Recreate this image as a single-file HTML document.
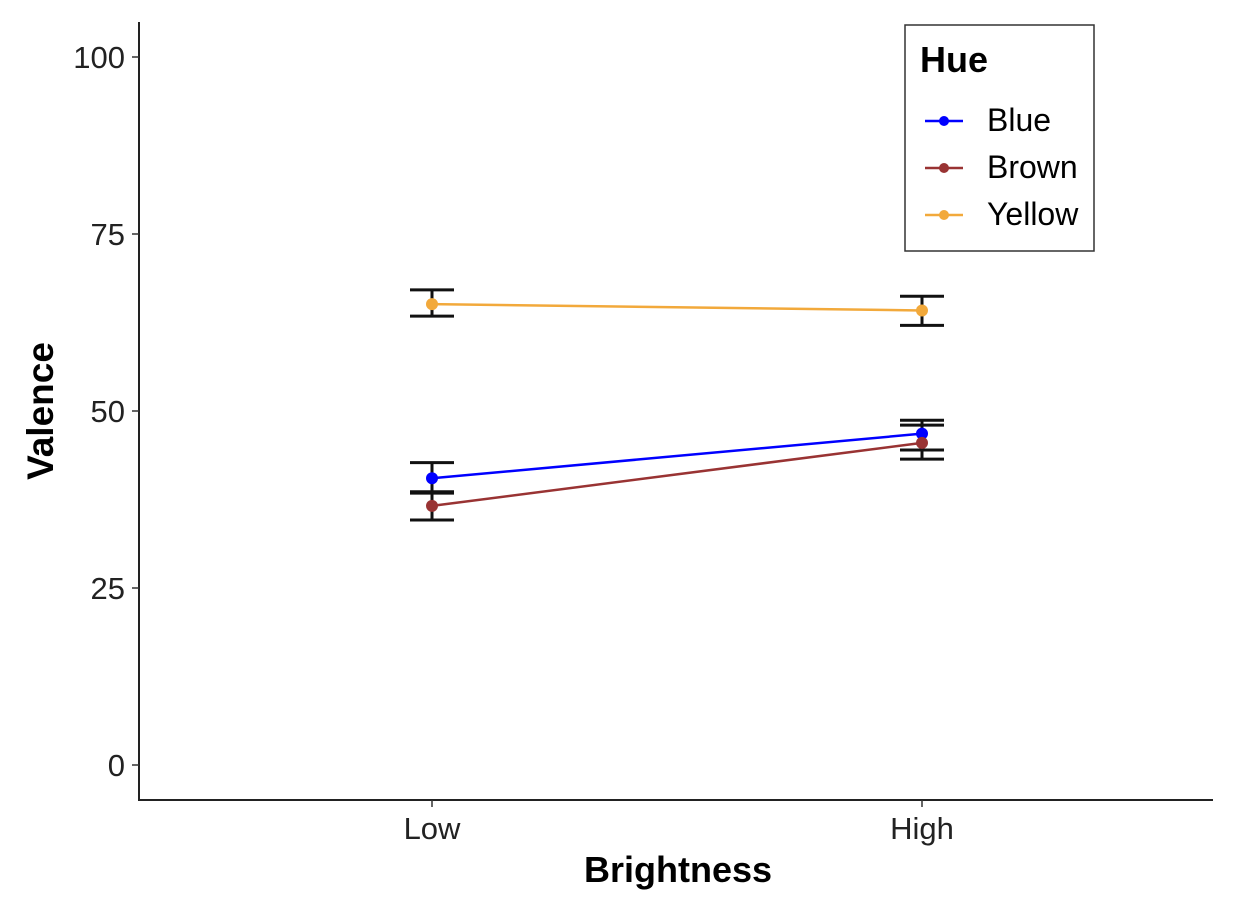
<!DOCTYPE html>
<html><head><meta charset="utf-8"><style>
body{margin:0;background:#fff}
svg text{font-family:"Liberation Sans",sans-serif}
</style></head><body>
<svg width="1243" height="907" xmlns="http://www.w3.org/2000/svg">
<g id="axes"></g><g id="marks"></g>
<g>
<rect x="905" y="25" width="189" height="226" fill="#fff" stroke="#333" stroke-width="1.5"/>
<text x="920" y="72" font-size="36" font-weight="bold">Hue</text>
<line x1="925" y1="121" x2="963" y2="121" stroke="#0000ff" stroke-width="2.5"/><circle cx="944" cy="121" r="5" fill="#0000ff"/>
<text x="987" y="131" font-size="32">Blue</text>
<line x1="925" y1="168" x2="963" y2="168" stroke="#993333" stroke-width="2.5"/><circle cx="944" cy="168" r="5" fill="#993333"/>
<text x="987" y="178" font-size="32">Brown</text>
<line x1="925" y1="215" x2="963" y2="215" stroke="#f2a93b" stroke-width="2.5"/><circle cx="944" cy="215" r="5" fill="#f2a93b"/>
<text x="987" y="225" font-size="32">Yellow</text>
</g>
</svg>
<script>
const categories=["Low","High"];
const series=["Blue","Brown","Yellow"];
const colors=["#0000ff","#993333","#f2a93b"];
const blueMean=[40.5,46.8], blueLo=[38.4,44.5], blueHi=[42.7,48.7];
const brownMean=[36.6,45.5], brownLo=[34.6,43.2], brownHi=[38.6,48.0];
const yellowMean=[65.1,64.2], yellowLo=[63.4,62.1], yellowHi=[67.1,66.2];
const yTicks=[0,25,50,75,100];
const NS="http://www.w3.org/2000/svg";
const y=v=>765-v*7.08;
const x=i=>432+i*490;
function mk(tag,attrs,parent){const e=document.createElementNS(NS,tag);for(const k in attrs)e.setAttribute(k,attrs[k]);parent.appendChild(e);return e;}
const ax=document.getElementById('axes'), mg=document.getElementById('marks');
let l=mk('line',{x1:139,y1:22,x2:139,y2:801,stroke:'#222','stroke-width':2},ax);


l=mk('line',{x1:138,y1:800,x2:1213,y2:800,stroke:'#222','stroke-width':2},ax);


yTicks.forEach(t=>{
 mk('line',{x1:132,y1:y(t),x2:139,y2:y(t),stroke:'#333','stroke-width':1.5},ax);
 const tx=mk('text',{x:125,y:y(t)+11,'font-size':31,'text-anchor':'end',fill:'#222'},ax);tx.textContent=t;
 
 
});
categories.forEach((c,i)=>{
 mk('line',{x1:x(i),y1:800,x2:x(i),y2:807,stroke:'#333','stroke-width':1.5},ax);
 const tx=mk('text',{x:x(i),y:839,'font-size':31,'text-anchor':'middle',fill:'#222'},ax);tx.textContent=c;
 
 
});
let t=mk('text',{x:678,y:882,'font-size':36,'font-weight':'bold','text-anchor':'middle'},ax);t.textContent='Brightness';


t=mk('text',{x:53,y:411,'font-size':37,'font-weight':'bold','text-anchor':'middle',transform:'rotate(-90 53 411)'},ax);t.textContent='Valence';


const data=[[blueMean,blueLo,blueHi],[brownMean,brownLo,brownHi],[yellowMean,yellowLo,yellowHi]];
data.forEach(([m,lo,hi])=>{
 m.forEach((v,i)=>{
  const g=mk('g',{stroke:'#111','stroke-width':3},mg);
  
  
  mk('line',{x1:x(i),y1:y(lo[i]),x2:x(i),y2:y(hi[i])},g);
  mk('line',{x1:x(i)-22,y1:y(lo[i]),x2:x(i)+22,y2:y(lo[i])},g);
  mk('line',{x1:x(i)-22,y1:y(hi[i]),x2:x(i)+22,y2:y(hi[i])},g);
 });
});
data.forEach(([m],s)=>{
 const pl=mk('polyline',{points:m.map((v,i)=>x(i)+','+y(v)).join(' '),fill:'none',stroke:colors[s],'stroke-width':2.5},mg);
 
 
 m.forEach((v,i)=>{
  const c=mk('circle',{cx:x(i),cy:y(v),r:6,fill:colors[s]},mg);
  
  
 });
});
</script>
</body></html>
